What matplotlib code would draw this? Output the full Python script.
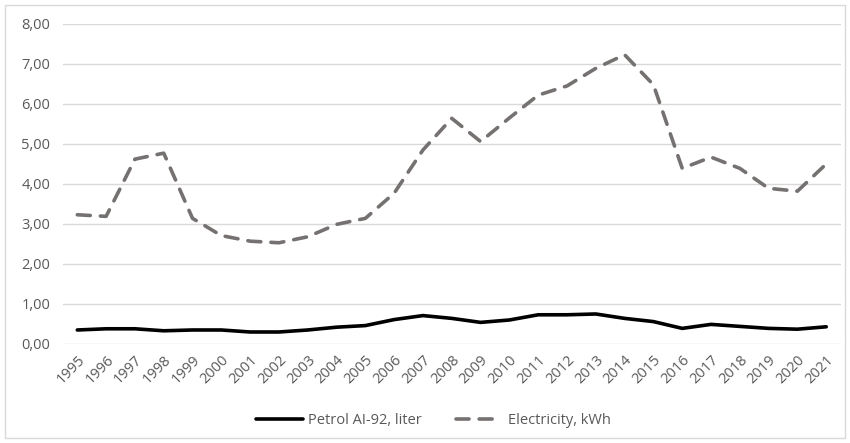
import numpy as np
import matplotlib
matplotlib.use('Agg')
import matplotlib.pyplot as plt
from matplotlib.patches import Rectangle
from matplotlib.ticker import FuncFormatter

#-------------------------------------------------------------------------------
# DATA
#-------------------------------------------------------------------------------
years = [str(y) for y in range(1995, 2022)]

petrol = [0.35, 0.38, 0.38, 0.33, 0.35, 0.35, 0.30, 0.30, 0.35, 0.42,
          0.46, 0.61, 0.71, 0.64, 0.54, 0.60, 0.73, 0.73, 0.75, 0.64,
          0.56, 0.39, 0.49, 0.44, 0.39, 0.37, 0.43]

electricity = [3.23, 3.19, 4.62, 4.77, 3.14, 2.71, 2.57, 2.53, 2.68, 2.99,
               3.14, 3.77, 4.85, 5.64, 5.06, 5.65, 6.22, 6.45, 6.89, 7.23,
               6.48, 4.39, 4.67, 4.39, 3.89, 3.82, 4.50]

labels = ['Petrol AI-92, liter', 'Electricity, kWh']

#-------------------------------------------------------------------------------
# PLOT
#-------------------------------------------------------------------------------
plt.rcParams['font.family'] = ['Open Sans', 'DejaVu Sans']
txt_col = '#595959'

fig = plt.figure(figsize=(8.5, 4.43), dpi=100)
ax = fig.add_axes([0.074, 0.2235, 0.915, 0.7225])

x = np.arange(len(years))
ax.plot(x, petrol, color='black', lw=2.6, solid_capstyle='round', label=labels[0])
ax.plot(x, electricity, color='#767171', lw=2.6, dashes=(3.6, 2.8),
        dash_capstyle='round', label=labels[1])

ax.set_xlim(-0.5, len(years) - 0.5)
ax.set_ylim(0, 8)
ax.set_yticks(np.arange(0, 9, 1))
ax.yaxis.set_major_formatter(FuncFormatter(lambda v, p: f'{v:.2f}'.replace('.', ',')))
ax.set_xticks(x)
ax.set_xticklabels(years, rotation=45, ha='right', rotation_mode='anchor')

ax.grid(axis='y', color='#d9d9d9', lw=1)
ax.set_axisbelow(True)
for s in ax.spines.values():
    s.set_visible(False)
ax.tick_params(length=0, colors=txt_col, labelsize=10.5)
ax.tick_params(axis='x', pad=6)
ax.tick_params(axis='y', pad=9)

leg = fig.legend(loc='center', bbox_to_anchor=(0.51, 0.05), ncol=2, frameon=False,
                 fontsize=10.5, handlelength=3.2, columnspacing=2.3, handletextpad=0.4)
for t in leg.get_texts():
    t.set_color(txt_col)

# chart border
fig.patches.append(Rectangle((0.006, 0.011), 0.988, 0.978, transform=fig.transFigure,
                             fill=False, edgecolor='#d9d9d9', lw=1))

fig.savefig('out.png', dpi=100)
